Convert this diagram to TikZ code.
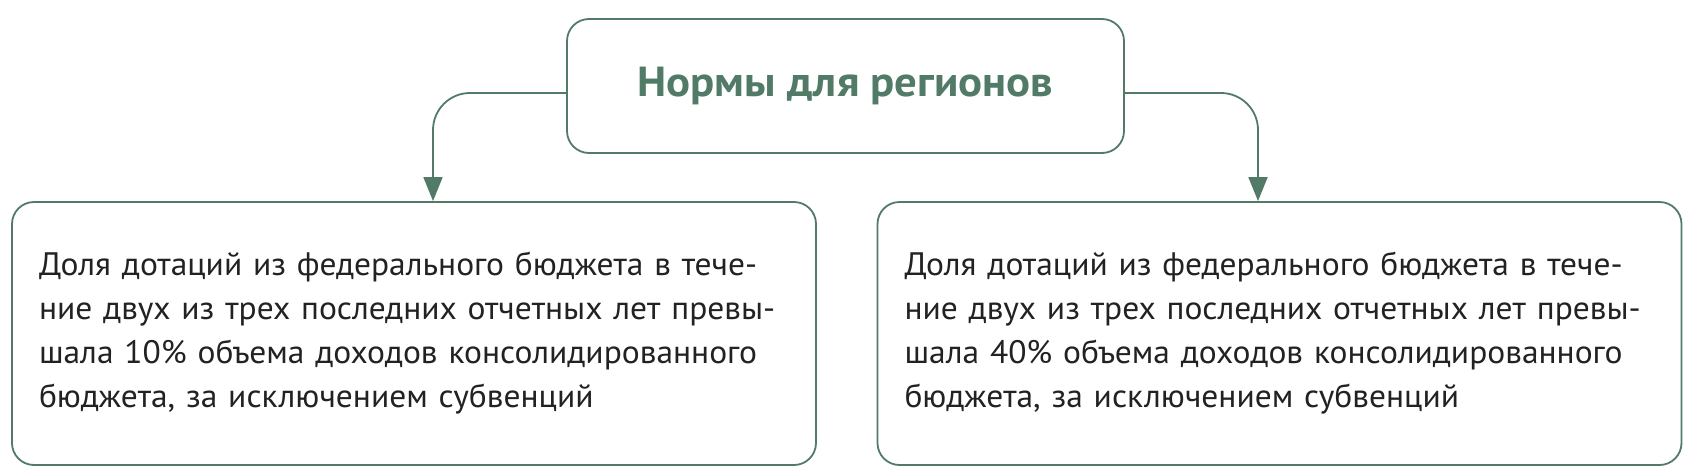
\documentclass[tikz,border=0pt]{standalone}
\usepackage{fontspec}
\setmainfont{PT Sans}[FakeStretch=1.03]
\newfontfamily\headfont{PT Sans}[FakeStretch=1.065]
\usetikzlibrary{arrows.meta}
\definecolor{normgreen}{HTML}{517A67}
\definecolor{normtext}{HTML}{222222}
\begin{document}
\begin{tikzpicture}[x=1pt,y=-1pt,
		box/.style={draw=normgreen, line width=1.8pt, rounded corners=22pt, fill=white},
		title/.style={box, minimum width=557pt, minimum height=134pt, text=normgreen,
			font=\headfont\fontsize{42}{50}\selectfont\bfseries},
		normbox/.style={box, minimum height=263pt, text width=750pt, inner xsep=27pt,
			align=left, text=normtext, font=\fontsize{32.5}{44}\selectfont},
		conn/.style={draw=normgreen, line width=1.8pt, rounded corners=37pt,
			-{Triangle[length=24pt,width=19pt]}}]
	\useasboundingbox (0,0) rectangle (1697,474);

	\node [title] (top) at (845.5,86) {Нормы для регионов};

	\foreach \name/\x/\pct in {left/414/10, right/1279.5/40} {
		\node [normbox] (\name) at (\x,333.5) {Доля дотаций из федерального бюджета в тече-\\
			ние двух из трех последних отчетных лет превы-\\
			шала \pct\% объема доходов консолидированного\\
			бюджета, за исключением субвенций};
	}

	% connectors from the heading down to both boxes
	\draw [conn] ([yshift=-7pt]top.west) -| ([xshift=19pt]left.north);
	\draw [conn] ([yshift=-7pt]top.east) -| ([xshift=-21.5pt]right.north);
\end{tikzpicture}
\end{document}
